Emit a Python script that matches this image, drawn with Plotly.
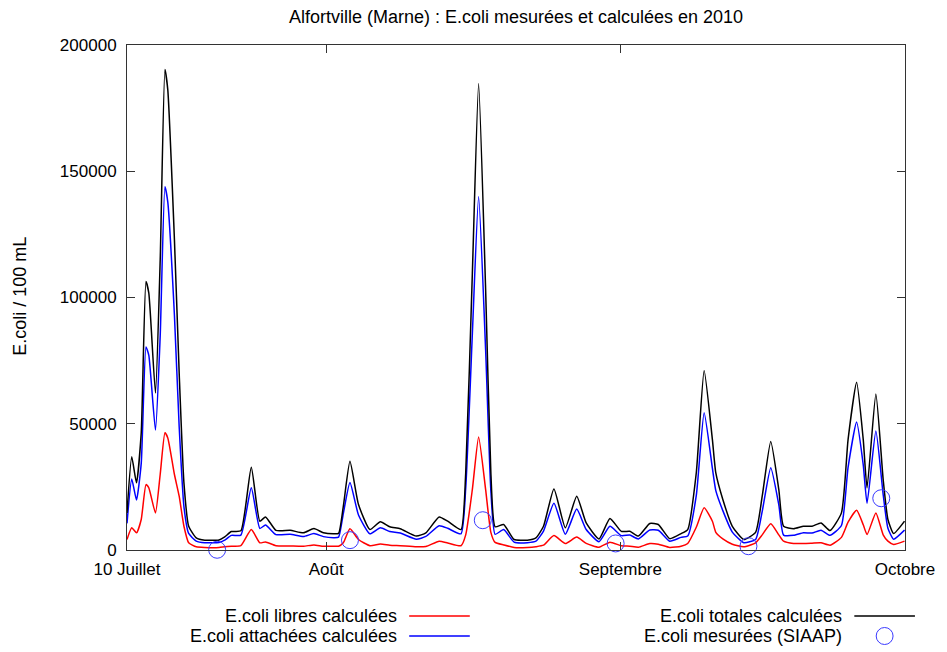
import plotly.graph_objects as go

# Temps en jours depuis le début de l'axe ("10 Juillet")
jours = [0.0, 0.5, 1.0, 1.5, 2.0, 2.3, 3.0, 3.5, 4.0, 4.3, 5.0, 5.5, 6.0, 6.5, 7.3, 8.2,
         9.7, 10.3, 11.0, 12.0, 13.1, 14.0, 14.6, 15.7, 17.2, 18.6, 19.7, 20.7, 21.8,
         22.3, 22.8, 23.5, 24.4, 25.6, 26.7, 27.7, 28.8, 30.5, 31.5, 32.9, 33.8, 35.2,
         35.7, 36.4, 37.06, 37.8, 38.35, 38.8, 39.7, 40.8, 42.2, 43.1, 43.9, 45.0, 46.2,
         47.4, 48.4, 49.75, 50.9, 52.1, 53.0, 53.9, 55.1, 56.0, 57.2, 58.4, 59.1, 60.0,
         60.83, 61.7, 62.06, 62.8, 63.8, 65.0, 66.25, 66.95, 67.85, 68.7, 69.2, 70.25,
         71.3, 72.2, 73.15, 74.1, 75.3, 76.0, 76.9, 77.6, 78.0, 78.93, 79.7, 80.2, 80.8, 81.95]

libres = [4150, 8800, 6800, 12100, 25900, 24600, 14700, 30000, 46400, 44400, 29900, 21300,
          9400, 2850, 1250, 1000, 1000, 1300, 1500, 1700, 8100, 2850, 3200, 1700, 1600, 1500,
          2000, 1500, 1500, 1500, 2850, 8400, 4150, 1700, 2400, 1900, 1700, 1250, 1400, 3500,
          2800, 1700, 6000, 24000, 44800, 23900, 7000, 3000, 2000, 1000, 1000, 1300, 1900,
          5700, 2570, 5100, 2600, 1100, 3100, 1700, 1500, 1100, 2570, 2300, 1000, 1500, 2570,
          9000, 16700, 11400, 7000, 4400, 2300, 1250, 2850, 6000, 10400, 6000, 3500, 2600,
          2570, 2700, 2850, 1900, 5000, 11000, 15700, 10000, 6100, 14700, 6000, 3500, 2200, 3500]

attachees = [10550, 28100, 19800, 34300, 80400, 77100, 47500, 84900, 143900, 137800, 92900,
             48800, 17200, 6550, 3550, 2900, 3000, 3900, 5800, 5900, 24700, 8550, 9900, 6100,
             6200, 5300, 6500, 5300, 4900, 5100, 14450, 26700, 13850, 6400, 8800, 7300, 6700,
             4250, 5400, 9600, 8600, 6400, 24500, 85700, 140000, 79100, 23500, 6200, 8100, 3150,
             2900, 3500, 7500, 18500, 6230, 16200, 8100, 3300, 9400, 5700, 5900, 4400, 7930,
             7800, 3500, 5000, 5530, 21500, 54400, 32300, 23500, 15600, 7100, 2900, 4150, 15300,
             32600, 17900, 5900, 5800, 6830, 6700, 7850, 5800, 9700, 32700, 50700, 33700, 18500,
             47100, 21900, 8600, 4300, 7900]

totales = [14700, 36900, 26600, 46400, 106300, 101700, 62200, 114900, 190300, 182200, 122800,
           70100, 26600, 9400, 4800, 3900, 4000, 5200, 7300, 7600, 32800, 11400, 13100, 7800,
           7800, 6800, 8500, 6800, 6400, 6600, 17300, 35100, 18000, 8100, 11200, 9200, 8400,
           5500, 6800, 13100, 11400, 8100, 30500, 109700, 184800, 103000, 30500, 9200, 10100,
           4150, 3900, 4800, 9400, 24200, 8800, 21300, 10700, 4400, 12500, 7400, 7400, 5500,
           10500, 10100, 4500, 6500, 8100, 30500, 71100, 43700, 30500, 20000, 9400, 4150, 7000,
           21300, 43000, 23900, 9400, 8400, 9400, 9400, 10700, 7700, 14700, 43700, 66400, 43700,
           24600, 61800, 27900, 12100, 6500, 11400]

# Mesures SIAAP
jours_mesures = [9.5, 23.5, 37.5, 51.5, 65.5, 79.5]
mesures = [100, 3900, 11800, 2600, 1500, 20500]

# Axes
x_ticks = [0, 21, 52, 82]
x_labels = ["10 Juillet", "Août", "Septembre", "Octobre"]
y_ticks = [0, 50000, 100000, 150000, 200000]

FONT = "Liberation Sans, Arial, sans-serif"
AX = "#333333"
LINE = dict(width=1.5, shape="spline", smoothing=0.5)

fig = go.Figure()
fig.add_trace(go.Scatter(x=jours, y=libres, mode="lines", line=dict(color="#ff0000", **LINE),
                         name="E.coli libres calculées"))
fig.add_trace(go.Scatter(x=jours, y=attachees, mode="lines", line=dict(color="#0000ff", **LINE),
                         name="E.coli attachées calculées"))
fig.add_trace(go.Scatter(x=jours, y=totales, mode="lines", line=dict(color="#000000", **LINE),
                         name="E.coli totales calculées"))
fig.add_trace(go.Scatter(x=jours_mesures, y=mesures, mode="markers", cliponaxis=False,
                         marker=dict(symbol="circle-open", size=17, color="#3a3aff", line=dict(width=1)),
                         name="E.coli mesurées (SIAAP)"))

# page offset of the figure (body margin of the html page)
OFF = 8
PW, PH = 947, 652
L, R, T, B = 127, 37, 45, 102          # in page pixels
pw, ph = PW - L - R, PH - T - B


def px(x):
    return (x - L) / pw


def py(y):
    return (PH - B - y) / ph


annotations = [
    dict(text="E.coli / 100 mL", xref="paper", yref="paper", x=px(19), y=py(296), textangle=-90,
         showarrow=False, xanchor="center", yanchor="middle", font=dict(size=18, color="#000")),
]
shapes = []
legend_rows = [
    ("E.coli libres calculées", 401, 616, "line", "#ff0000", 411, 472),
    ("E.coli attachées calculées", 401, 636, "line", "#0000ff", 411, 472),
    ("E.coli totales calculées", 849, 616, "line", "#000000", 859, 920),
    ("E.coli mesurées (SIAAP)", 849, 636, "circle", "#3a3aff", 881, 898),
]
for txt, xr, yy, kind, col, a, b in legend_rows:
    annotations.append(dict(text=txt, xref="paper", yref="paper", x=px(xr), y=py(yy), showarrow=False,
                            xanchor="right", yanchor="middle", font=dict(size=18, color="#000")))
    if kind == "line":
        shapes.append(dict(type="line", xref="paper", yref="paper", x0=px(a), x1=px(b), y0=py(yy), y1=py(yy),
                           line=dict(color=col, width=1.5)))
    else:
        shapes.append(dict(type="circle", xref="paper", yref="paper", x0=px(a), x1=px(b),
                           y0=py(yy + 8.5), y1=py(yy - 8.5), line=dict(color=col, width=1)))

fig.update_layout(
    width=PW - OFF, height=PH - OFF, margin=dict(l=L - OFF, r=R, t=T - OFF, b=B),
    paper_bgcolor="white", plot_bgcolor="white", showlegend=False,
    font=dict(family=FONT, size=17, color="#000"),
    title=dict(text="Alfortville (Marne) : E.coli mesurées et calculées en 2010", x=px(518.5), xref="paper",
               y=1 - (17 - OFF) / (PH - OFF), yref="container", xanchor="center", yanchor="middle",
               font=dict(size=18, color="#000")),
    annotations=annotations, shapes=shapes,
)
fig.update_xaxes(range=[0, 82], tickvals=x_ticks, ticktext=x_labels, ticks="inside", ticklen=8,
                 tickcolor=AX, showline=True, linecolor=AX, linewidth=1, mirror="ticks",
                 showgrid=False, zeroline=False, tickfont=dict(size=17), ticklabelstandoff=4)
fig.update_yaxes(range=[0, 200000], tickvals=y_ticks, tickformat="d", ticks="inside", ticklen=8,
                 tickcolor=AX, showline=True, linecolor=AX, linewidth=1, mirror="ticks",
                 showgrid=False, zeroline=False, tickfont=dict(size=17), ticklabelstandoff=6)

fig.write_html("out.html")
